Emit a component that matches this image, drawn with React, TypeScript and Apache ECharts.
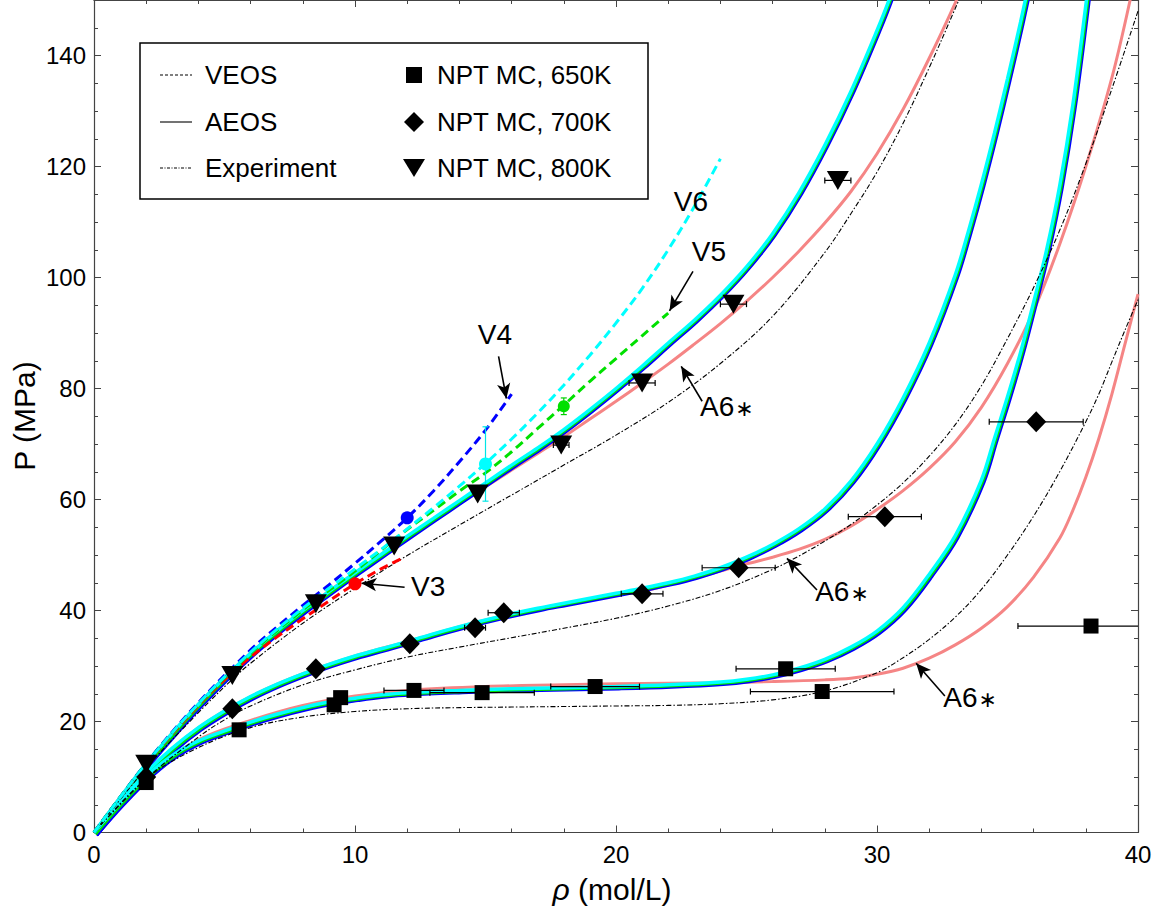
import React, { useEffect, useRef } from 'react';
import * as echarts from 'echarts';

const FONT = '"Liberation Sans", Arial, Helvetica, sans-serif';

// ---- AEOS curves (rho mol/L, P MPa) ----
const aeos650 = [[0,0],[1,5.3],[2,10.1],[3,13.9],[4,16.5],[5,18.3],[6,19.9],[7,21.3],[8,22.5],[9,23.5],[10,24.2],[11,24.8],[12,25.2],[14,25.6],[16,25.9],[18,26.1],[20,26.3],[22,26.6],[24,27.1],[25,27.6],[26,28.4],[27,29.6],[28,31.2],[29,33.4],[30,36.3],[31,40.5],[32,46.5],[33,53.5],[34,63.5],[34.5,71],[35,78.5],[35.5,86.5],[36,95.5],[36.5,105],[37,116.5],[37.5,131],[38,149],[38.2,157]];
const aeos700 = [[0,0],[1,5.6],[2,10.8],[3,15.2],[4,18.9],[5,21.9],[6,24.5],[7,26.7],[8,28.6],[9,30.3],[10,31.8],[11,33.1],[12,34.4],[13,35.8],[14,37.1],[15,38.3],[16,39.4],[17,40.4],[18,41.3],[19,42.2],[20,43.1],[21,44.0],[22,45.0],[23,46.2],[24,47.7],[25,49.6],[26,51.9],[27,54.7],[28,58.3],[29,63.3],[30,70.0],[31,78.3],[32,88.2],[33,100.5],[33.5,108.3],[34,116.8],[34.5,126],[35,135.8],[35.5,146],[36,157]];
const aeos800 = [[0,0],[1,6.3],[2,12.4],[3,17.9],[4,23.1],[5,27.9],[6,32.3],[7,36.3],[8,40.0],[9,43.4],[10,46.8],[11,50.1],[12,53.4],[13,56.6],[14,59.8],[15,63.0],[16,66.2],[17,69.3],[18,72.6],[19,76.2],[20,80.0],[21,84.0],[22,88.2],[23,92.3],[24,96.8],[25,101.9],[26,107.9],[27,115.2],[28,123.8],[29,133.5],[30,144.5],[30.5,150.5],[30.8,155]];

// ---- A6* curves ----
const a6s650 = [[0,0],[2,10.2],[4,16.7],[6,20.2],[8,22.9],[10,24.6],[12,25.6],[15,26.3],[18,26.6],[20,26.8],[22,26.9],[24,27.0],[26,27.2],[28,27.5],[29,27.8],[30,28.5],[31,29.6],[32,31.4],[33,33.8],[34,36.8],[35,40.7],[36,46.0],[37,53.0],[37.5,58.0],[38,64.0],[38.5,71.0],[39,79.0],[39.5,88.0],[40,97.0]];
const a6s700 = [[0,0],[2,10.8],[4,18.9],[6,24.5],[8,28.6],[10,31.8],[12,34.4],[14,37.1],[16,39.4],[18,41.2],[20,42.9],[21,43.5],[22,44.6],[23,45.8],[24,47.1],[25,48.4],[26,49.6],[27,51.0],[28,52.8],[29,55.2],[30,58.2],[31,61.6],[32,65.6],[33,70.4],[34,76.6],[35,84.5],[36,94.0],[37,106.0],[38,120.0],[39,136.0],[39.7,150],[40,157]];
const a6s800 = [[0,0],[2,12.4],[4,23.1],[6,32.3],[8,40.0],[10,46.8],[12,53.3],[13,56.4],[14,59.4],[15,62.3],[16,65.3],[17,68.3],[18,71.3],[19,74.5],[20,77.7],[21,81.0],[22,84.4],[23,88.0],[24,91.7],[25,95.7],[26,100.0],[27,104.7],[28,109.8],[29,115.5],[30,122.3],[31,130.3],[32,139.5],[33,149.5],[33.5,155]];

// ---- Experiment ----
const exp650 = [[0,0],[2,9.7],[4,15.3],[6,18.9],[8,20.8],[10,21.8],[12,22.3],[14,22.5],[16,22.6],[18,22.7],[20,22.8],[22,22.9],[24,23.2],[26,23.9],[28,25.5],[30,28.8],[31,31.5],[32,34.8],[33,38.8],[34,43.8],[35,50.0],[36,57.0],[37,65.0],[38,74.0],[38.5,79.0],[39,84.8],[39.5,90.5],[40,96.0]];
const exp700 = [[0,0],[2,9.7],[4,17.2],[5,20.3],[6,22.8],[8,26.6],[10,29.3],[12,31.6],[14,33.4],[16,35.1],[18,36.8],[20,38.6],[22,40.8],[24,43.6],[26,47.4],[27,49.8],[28,52.5],[29,55.5],[30,59.0],[31,63.0],[32,67.8],[33,73.5],[34,80.5],[35,89.0],[36,98.2],[37,108.5],[38,120.5],[39,134.0],[40,148.0]];
const exp800 = [[0,0],[2,11.6],[4,21.6],[5.3,27.6],[6,30.5],[8,37.7],[10,44.0],[12,49.9],[14,55.4],[16,60.8],[18,66.2],[20,71.6],[22,77.5],[24,84.5],[26,93.0],[28,104.5],[29,111.5],[30,119.0],[31,127.8],[32,137.8],[33,148.5],[33.5,154]];

// ---- VEOS (800K) ----
const v3 = [[0,0],[2,12.3],[4,22.9],[5,27.5],[6,31.6],[7,35.2],[8,38.5],[9,41.7],[10,44.8],[11,47.5],[11.8,49.4]];
const v4 = [[0,0],[2,12.5],[4,23.4],[6,32.9],[7,37.0],[8,40.9],[9,44.6],[10,48.5],[11,52.5],[12,56.7],[13,61.5],[14,66.8],[15,72.5],[16,79.0]];
const v5 = [[0,0],[2,12.4],[4,23.1],[6,32.3],[8,40.1],[10,47.1],[12,54.6],[13,58.0],[14,61.5],[15,64.8],[16,68.6],[17,72.8],[18,77.0],[19,81.3],[20,85.4],[21,89.5],[22,93.6]];
const v6 = [[0,0],[2,12.4],[4,23.2],[6,32.5],[8,40.4],[10,47.5],[11,51.0],[12,54.7],[13,58.5],[14,62.4],[15,66.5],[16,70.9],[17,75.6],[18,80.6],[19,86.0],[20,91.8],[21,98.0],[22,105.0],[23,112.8],[24,121.4]];

// VEOS points [rho, P, yErr]
const vDot3 = [[10.0, 44.8, 0]];
const vDot4 = [[12.0, 56.7, 0]];
const vDot5 = [[18.0, 76.8, 1.5]];
const vDot6 = [[15.0, 66.4, 6.7]];

// ---- NPT MC simulation points [rho, P, rhoErr] ----
const mc650 = [[2.0,9.0,0],[5.56,18.5,0],[9.2,23.0,0],[9.45,24.3,0],[12.26,25.6,1.15],[14.87,25.2,2.0],[19.2,26.3,1.7],[26.5,29.5,1.9],[27.9,25.4,2.75],[38.2,37.2,2.8]];
const mc700 = [[2.0,10.0,0],[5.3,22.3,0],[8.5,29.5,0],[12.1,34.0,0],[14.6,36.9,0.4],[15.7,39.6,0.6],[21.0,43.0,0.8],[24.7,47.7,1.4],[30.3,56.9,1.4],[36.1,74.0,1.8]];
const mc800 = [[2.0,12.3,0],[5.3,28.3,0],[8.5,41.2,0],[11.5,51.6,0],[14.7,61.0,0],[17.9,69.8,0.3],[21.0,81.0,0.5],[24.5,95.2,0.5],[28.5,117.5,0.5]];

// ---- annotations ----
const annoNames = ['V3', 'V4', 'V5', 'V6', 'A6{s|∗}', 'A6{s|∗}', 'A6{s|∗}'];
const annoAt = [[12.8,44.4],[15.36,89.8],[23.56,104.7],[22.87,113.7],[24.25,76.8],[28.66,43.4],[33.57,24.3]];
const arrowFrom = [[11.9,44.2],[15.5,85.8],[22.95,101.1],[23.3,77.7],[27.7,43.7],[32.6,24.6]];
const arrowTo = [[10.25,44.9],[15.8,78.2],[22.05,94.0],[22.5,84.0],[26.55,49.4],[31.5,30.5]];

const legendLines = ['VEOS', 'AEOS', 'Experiment'];
const legendMarks = ['NPT MC, 650K', 'NPT MC, 700K', 'NPT MC, 800K'];

const PINK = '#f58585';
const AXIS = '#444';

function lineSeries(data, color, width, opts = {}) {
  return {
    type: 'line',
    data,
    showSymbol: false,
    symbol: 'none',
    smooth: 0.35,
    clip: true,
    silent: true,
    lineStyle: { color, width, ...(opts.lineStyle || {}) },
    xAxisIndex: opts.xAxisIndex ?? 0,
    yAxisIndex: opts.yAxisIndex ?? 0,
    z: opts.z ?? 2,
  };
}

function errSeries(data, color, z) {
  return {
    type: 'custom',
    clip: true,
    silent: true,
    z,
    data,
    encode: { x: 0, y: 1 },
    renderItem: (params, api) => {
      const x = api.value(0), y = api.value(1), ex = api.value(2), ey = api.value(3);
      const kids = [];
      const st = { stroke: color, lineWidth: 1.2 };
      const cap = 3;
      if (ex > 0) {
        const a = api.coord([x - ex, y]);
        const b = api.coord([x + ex, y]);
        kids.push({ type: 'line', shape: { x1: a[0], y1: a[1], x2: b[0], y2: b[1] }, style: st });
        kids.push({ type: 'line', shape: { x1: a[0], y1: a[1] - cap, x2: a[0], y2: a[1] + cap }, style: st });
        kids.push({ type: 'line', shape: { x1: b[0], y1: b[1] - cap, x2: b[0], y2: b[1] + cap }, style: st });
      }
      if (ey > 0) {
        const a = api.coord([x, y - ey]);
        const b = api.coord([x, y + ey]);
        kids.push({ type: 'line', shape: { x1: a[0], y1: a[1], x2: b[0], y2: b[1] }, style: st });
        kids.push({ type: 'line', shape: { x1: a[0] - cap, y1: a[1], x2: a[0] + cap, y2: a[1] }, style: st });
        kids.push({ type: 'line', shape: { x1: b[0] - cap, y1: b[1], x2: b[0] + cap, y2: b[1] }, style: st });
      }
      return { type: 'group', children: kids };
    },
  };
}

function buildOption() {
  const gridBox = { width: 1044, height: 834.5 };
  const xMajor = (pos, showLabel) => ({
    type: 'value', gridIndex: 0, position: pos, min: 0, max: 40, interval: 10,
    axisLine: { show: true, onZero: false, lineStyle: { color: AXIS, width: 1.2 } },
    axisTick: { show: true, inside: true, length: 7, lineStyle: { color: AXIS, width: 1 } },
    minorTick: { show: true, splitNumber: 5, length: 4, lineStyle: { color: AXIS, width: 1 } },
    splitLine: { show: false }, minorSplitLine: { show: false },
    axisLabel: { show: showLabel, color: '#000', fontSize: 24, fontFamily: FONT, margin: 10 },
  });
  const yAx = (pos, interval, len, showLine, showLabel) => ({
    type: 'value', gridIndex: 0, position: pos, min: 0, max: 150, interval,
    axisLine: { show: showLine, onZero: false, lineStyle: { color: AXIS, width: 1.2 } },
    axisTick: { show: true, inside: true, length: len, lineStyle: { color: AXIS, width: 1 } },
    splitLine: { show: false },
    axisLabel: { show: showLabel, color: '#000', fontSize: 24, fontFamily: FONT, margin: 8, showMaxLabel: false },
  });
  const hiddenX = (g) => ({ type: 'value', gridIndex: g, min: 0, max: 40, show: false, splitLine: { show: false } });
  const hiddenY = (g) => ({ type: 'value', gridIndex: g, min: 0, max: 150, show: false, splitLine: { show: false } });

  const series = [];
  [a6s650, a6s700, a6s800].forEach((d) => series.push(lineSeries(d, PINK, 3, { z: 2 })));
  [aeos650, aeos700, aeos800].forEach((d) => series.push(lineSeries(d, '#0000ff', 2.4, { xAxisIndex: 3, yAxisIndex: 5, z: 3 })));
  [aeos650, aeos700, aeos800].forEach((d) => series.push(lineSeries(d, '#00e000', 3, { xAxisIndex: 2, yAxisIndex: 4, z: 4 })));
  [aeos650, aeos700, aeos800].forEach((d) => series.push(lineSeries(d, '#00ffff', 3.5, { z: 5 })));
  [exp650, exp700, exp800].forEach((d) => series.push(lineSeries(d, '#000', 1.1, { z: 6, lineStyle: { type: [5, 2, 1.5, 2] } })));
  series.push(lineSeries(v3, '#ff0000', 3, { z: 7, lineStyle: { type: [9, 5] } }));
  series.push(lineSeries(v4, '#0000ff', 3, { z: 7, lineStyle: { type: [9, 5] } }));
  series.push(lineSeries(v5, '#00e000', 3, { z: 7, lineStyle: { type: [9, 5] } }));
  series.push(lineSeries(v6, '#00ffff', 3, { z: 7, lineStyle: { type: [9, 5] } }));

  const toErr = (arr) => arr.map((p) => [p[0], p[1], p[2], 0]);
  series.push(errSeries([...toErr(mc650), ...toErr(mc700), ...toErr(mc800)], '#000', 8));
  series.push(errSeries(vDot6.map((p) => [p[0], p[1], 0, p[2]]), '#00e5e5', 8));
  series.push(errSeries(vDot5.map((p) => [p[0], p[1], 0, p[2]]), '#00d000', 8));

  const scatter = (data, symbol, size, color, rotate = 0) => ({
    type: 'scatter', data: data.map((p) => [p[0], p[1]]), symbol, symbolSize: size, symbolRotate: rotate,
    itemStyle: { color, opacity: 1 }, silent: true, z: 9, clip: false,
  });
  series.push(scatter(mc650, 'rect', 15, '#000'));
  series.push(scatter(mc700, 'diamond', [20, 21], '#000'));
  series.push(scatter(mc800, 'triangle', [22, 19], '#000', 180));
  series.push(scatter(vDot3, 'circle', 13, '#ff0000'));
  series.push(scatter(vDot4, 'circle', 13, '#0000ff'));
  series.push(scatter(vDot5, 'circle', 12, '#00e000'));
  series.push(scatter(vDot6, 'circle', 13, '#00ffff'));

  series.push({
    type: 'scatter',
    silent: true,
    z: 10,
    symbol: 'circle',
    symbolSize: 0.01,
    itemStyle: { color: '#000', opacity: 1 },
    data: annoAt.map((p, i) => ({ value: p, name: annoNames[i] })),
    label: {
      show: true, position: 'inside', formatter: '{b}', color: '#000', fontSize: 28, fontFamily: FONT,
      textBorderWidth: 0, opacity: 1,
      rich: { s: { fontSize: 22, color: '#000', fontFamily: '"DejaVu Sans", sans-serif', padding: [4, 0, 0, 1] } },
    },
    markLine: {
      silent: true,
      symbol: ['none', 'arrow'],
      symbolSize: [10, 15],
      label: { show: false },
      lineStyle: { color: '#000', width: 1.6, type: 'solid' },
      emphasis: { disabled: true },
      data: arrowFrom.map((f, i) => [{ coord: f }, { coord: arrowTo[i] }]),
    },
  });

  const lgY = [75, 122, 168];
  const graphic = [];
  graphic.push({ type: 'rect', z: 100, shape: { x: 140, y: 43, width: 508, height: 156 }, style: { fill: '#fff', stroke: '#000', lineWidth: 1.5 } });
  const dashes = [[3, 2], null, [3, 1.5, 1, 1.5]];
  legendLines.forEach((t, i) => {
    graphic.push({ type: 'line', z: 101, shape: { x1: 160, y1: lgY[i], x2: 192, y2: lgY[i] }, style: { stroke: '#000', lineWidth: 1.1, lineDash: dashes[i] || undefined } });
    graphic.push({ type: 'text', z: 101, x: 205, y: lgY[i], style: { text: t, fill: '#000', fontSize: 26, fontFamily: FONT, verticalAlign: 'middle', align: 'left' } });
  });
  graphic.push({ type: 'rect', z: 101, shape: { x: 406, y: lgY[0] - 8, width: 16, height: 16 }, style: { fill: '#000' } });
  graphic.push({ type: 'polygon', z: 101, shape: { points: [[414, lgY[1] - 10], [424, lgY[1]], [414, lgY[1] + 10], [404, lgY[1]]] }, style: { fill: '#000' } });
  graphic.push({ type: 'polygon', z: 101, shape: { points: [[403, lgY[2] - 9], [425, lgY[2] - 9], [414, lgY[2] + 9]] }, style: { fill: '#000' } });
  legendMarks.forEach((t, i) => {
    graphic.push({ type: 'text', z: 101, x: 437, y: lgY[i], style: { text: t, fill: '#000', fontSize: 26, fontFamily: FONT, verticalAlign: 'middle', align: 'left' } });
  });
  graphic.push({
    type: 'text', z: 101, x: 612, y: 889,
    style: {
      text: '{i|ρ} (mol/L)', fill: '#000', fontSize: 30, fontFamily: FONT, align: 'center', verticalAlign: 'middle',
      rich: { i: { fontStyle: 'italic', fontSize: 30, fontFamily: FONT, fill: '#000' } },
    },
  });
  graphic.push({
    type: 'text', z: 101, x: 24, y: 416, rotation: Math.PI / 2,
    style: { text: 'P (MPa)', fill: '#000', fontSize: 30, fontFamily: FONT, align: 'center', verticalAlign: 'middle' },
  });

  return {
    animation: false,
    backgroundColor: '#fff',
    grid: [
      { left: 94, top: -2, ...gridBox },
      { left: 95.5, top: -0.5, ...gridBox },
      { left: 97, top: 1, ...gridBox },
    ],
    xAxis: [xMajor('bottom', true), xMajor('top', false), hiddenX(1), hiddenX(2)],
    yAxis: [
      yAx('left', 20, 7, true, true),
      yAx('left', 5, 4, false, false),
      yAx('right', 20, 7, true, false),
      yAx('right', 5, 4, false, false),
      hiddenY(1),
      hiddenY(2),
    ],
    series,
    graphic,
  };
}

export default function App() {
  const ref = useRef(null);
  useEffect(() => {
    const chart = echarts.init(ref.current, null, { renderer: 'svg' });
    chart.setOption(buildOption());
    return () => chart.dispose();
  }, []);
  return <div ref={ref} style={{ position: 'fixed', left: 0, top: 0, width: 1159, height: 915, background: '#fff' }} />;
}
